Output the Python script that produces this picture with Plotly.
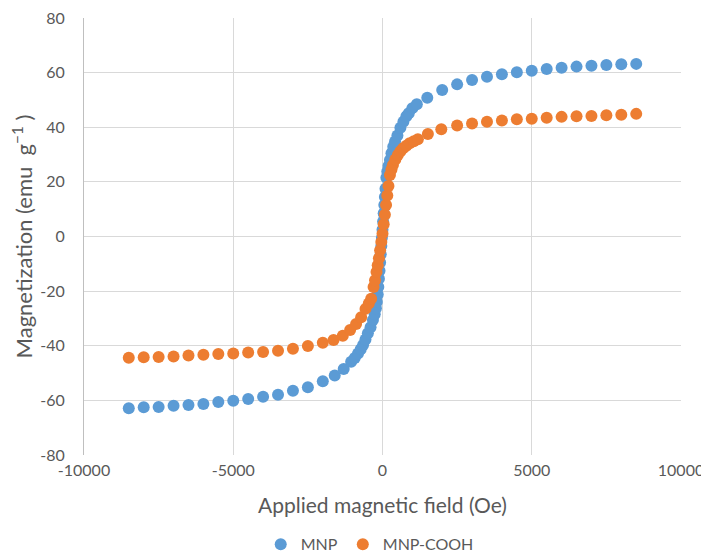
import plotly.graph_objects as go

# ---- data ----
mnp_field = [-8500, -8000, -7500, -7000, -6500, -6000, -5500, -5000, -4500, -4000,
             -3500, -3000, -2500, -2000, -1600, -1300, -1050, -930, -820, -730,
             -650, -570, -490, -400, -320, -260, -220, -190, -160, -140,
             -120, -100, -80, -60, -40, -20, 0, 20, 40, 60,
             80, 100, 130, 160, 200, 250, 300, 360, 420, 500,
             600, 700, 800, 880, 1000, 1150, 1500, 2000, 2500, 3000,
             3500, 4000, 4500, 5000, 5500, 6000, 6500, 7000, 7500, 8000, 8500]
mnp_mag = [-62.9, -62.5, -62.4, -62.0, -61.7, -61.3, -60.6, -60.1, -59.5, -58.7,
           -57.9, -56.5, -55.2, -53.0, -50.9, -48.5, -45.9, -44.5, -42.8, -41.3,
           -39.7, -37.7, -35.4, -33.2, -30.6, -28.5, -26.3, -24.0, -21.2, -18.5,
           -15.5, -12.5, -9.5, -6.5, -3.5, -0.5, 2.5, 5.5, 8.5, 11.5,
           14.5, 17.5, 21.5, 23.8, 25.8, 28.0, 30.5, 32.9, 34.8, 37.0,
           39.8, 42.0, 44.0, 45.1, 47.0, 48.4, 50.8, 53.6, 55.7, 57.3,
           58.5, 59.4, 60.1, 60.7, 61.3, 61.8, 62.2, 62.5, 62.8, 63.1, 63.2]

cooh_field = [-8500, -8000, -7500, -7000, -6500, -6000, -5500, -5000, -4500, -4000,
              -3500, -3000, -2500, -2000, -1640, -1330, -1085, -885, -715, -570,
              -460, -380, -300, -250, -200, -160, -120, -80, -40, 0,
              40, 80, 120, 160, 200, 250, 300, 350, 430, 515,
              600, 690, 800, 910, 1050, 1185, 1520, 1970, 2500, 3000,
              3500, 4000, 4500, 5000, 5500, 6000, 6500, 7000, 7500, 8000, 8500]
cooh_mag = [-44.4, -44.2, -44.1, -43.9, -43.6, -43.3, -43.0, -42.8, -42.5, -42.3,
            -41.8, -41.1, -40.1, -38.9, -37.9, -36.3, -34.2, -32.0, -29.6, -26.5,
            -24.5, -22.8, -18.5, -16.0, -13.0, -10.5, -8.0, -5.0, -2.0, 1.0,
            4.5, 8.0, 11.5, 15.0, 18.5, 22.5, 24.5, 26.2, 28.2, 29.8,
            31.2, 32.3, 33.2, 34.1, 34.9, 35.6, 37.5, 39.3, 40.6, 41.4,
            42.0, 42.5, 42.9, 43.1, 43.5, 43.8, 44.0, 44.1, 44.4, 44.6, 44.9]

x_ticks = [-10000, -5000, 0, 5000, 10000]
x_tick_text = ["-10000", "-5000", "0", "5000", "10000"]
y_ticks = [-80, -60, -40, -20, 0, 20, 40, 60, 80]
y_tick_text = ["-80", "-60", "-40", "-20", "0", "20", "40", "60", "80"]

FONT = "Lato, Open Sans, sans-serif"
GRAY = "#595959"
GRID = "#D9D9D9"

fig = go.Figure()
fig.add_trace(go.Scatter(x=mnp_field, y=mnp_mag, mode="markers", name="MNP",
                         marker=dict(color="#5B9BD5", size=12, line=dict(width=0))))
fig.add_trace(go.Scatter(x=cooh_field, y=cooh_mag, mode="markers", name="MNP-COOH",
                         marker=dict(color="#ED7D31", size=12, line=dict(width=0))))

# the page body has an 8px margin, so the figure is sized to fit the window
fig.update_layout(
    width=701, height=545,
    margin=dict(l=76, r=28, t=10, b=98),
    paper_bgcolor="white", plot_bgcolor="white",
    font=dict(family=FONT, size=16, color=GRAY),
    showlegend=True,
    legend=dict(orientation="h", x=0.516, xanchor="center",
                xref="container", yref="container", y=0.016, yanchor="middle",
                font=dict(size=16, color=GRAY), itemwidth=30, traceorder="normal",
                tracegroupgap=0, borderwidth=0),
    xaxis=dict(range=[-10000, 10000], tickvals=x_ticks, ticktext=x_tick_text,
               automargin=False,
               showgrid=True, gridcolor=GRID, gridwidth=1, zeroline=False,
               showline=False, ticks="", ticklabelstandoff=4,
               ticklabeloverflow="allow",
               tickfont=dict(size=16, color=GRAY),
               title=dict(text="Applied magnetic field (Oe)", font=dict(size=21, color=GRAY),
                          standoff=20)),
    yaxis=dict(range=[-80, 80], tickvals=y_ticks, ticktext=y_tick_text,
               automargin=False,
               showgrid=True, gridcolor=GRID, gridwidth=1, zeroline=False,
               showline=True, linecolor="#BFBFBF", linewidth=1, ticks="",
               ticklabelstandoff=15, ticklabeloverflow="allow",
               tickfont=dict(size=16, color=GRAY),
               title=dict(text="Magnetization (emu  g<sup>−1</sup> )", font=dict(size=22, color=GRAY),
                          standoff=5)),
)

fig.write_html("out.html")
